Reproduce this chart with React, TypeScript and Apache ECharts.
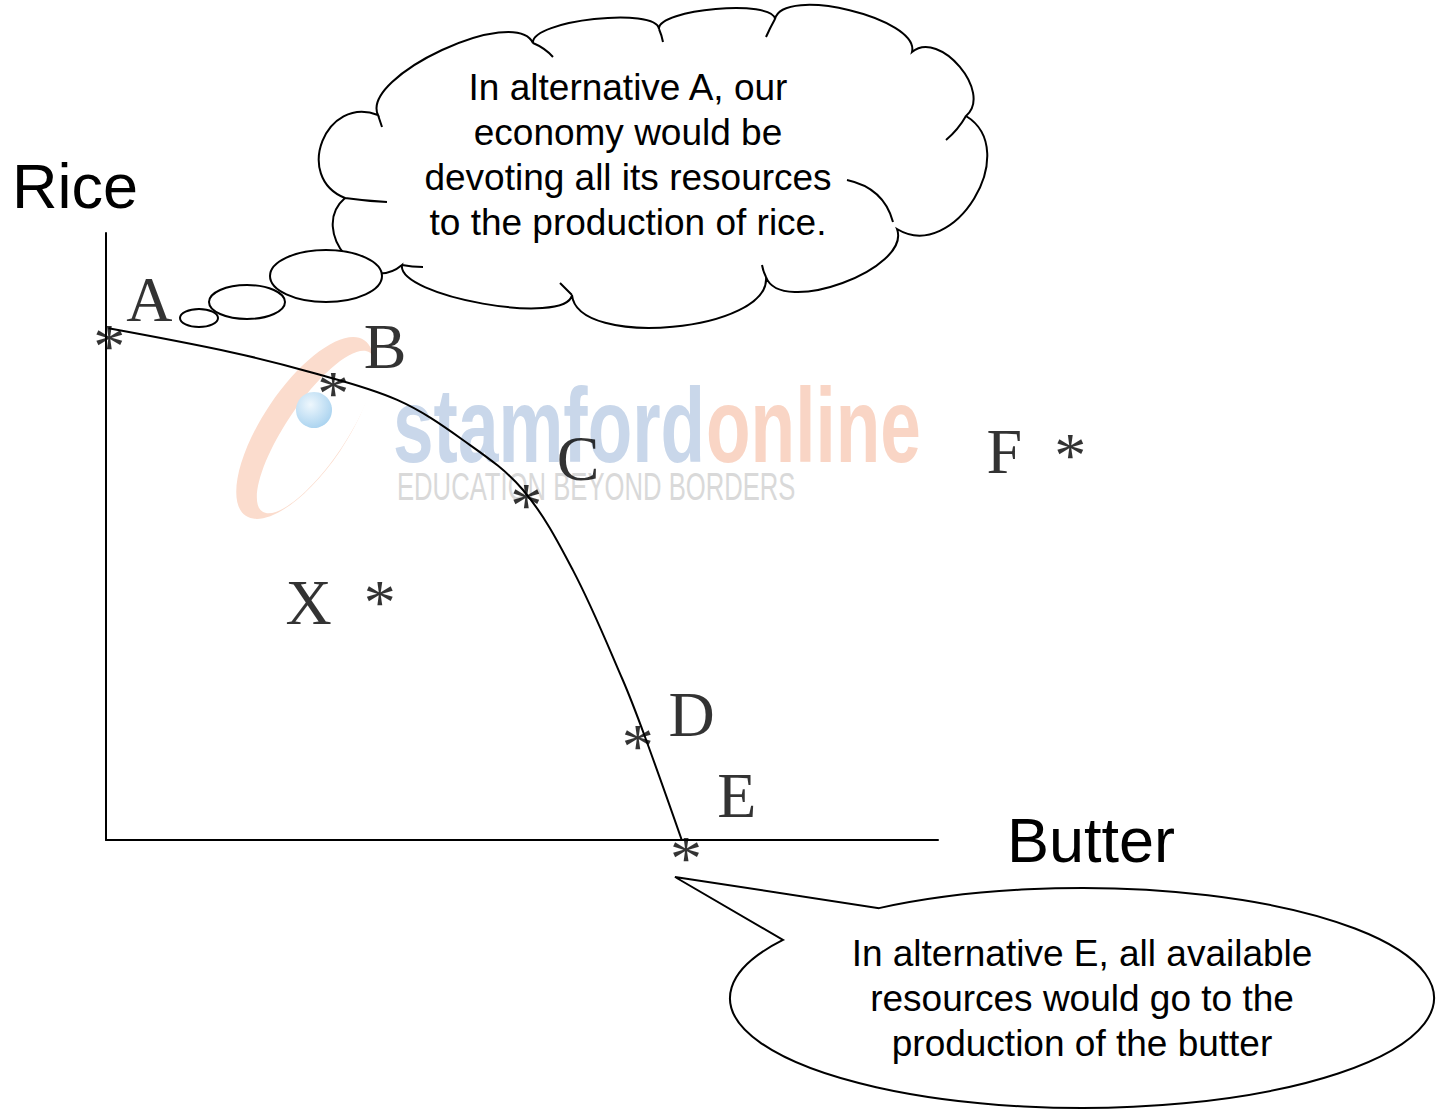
import React, { useEffect, useRef } from 'react';
import * as echarts from 'echarts';

// ---- data ----
const POINT_NAMES = ['A', 'B', 'C', 'D', 'E', 'F', 'X'];
const POINT_BUTTER = [0.4, 27.3, 50.5, 63.9, 69.7, 115.9, 32.9];
const POINT_RICE = [82.7, 74.8, 56.5, 16.8, -1.8, 64.7, 40.4];

const FRONTIER_BUTTER = [0.3, 14.9, 24.5, 35.0, 42.9, 50.1, 56.1, 62.1, 64.7, 69.2];
const FRONTIER_RICE = [84.3, 80.4, 77.1, 72.5, 65.9, 57.7, 44.5, 26.4, 17.3, 0];

const AXIS_MIN = 0;
const AXIS_MAX = 100;
const X_NAME = 'Butter';
const Y_NAME = 'Rice';

const CLOUD_TEXT = [
  'In alternative A, our',
  'economy would be',
  'devoting all its resources',
  'to the production of rice.',
];
const BUBBLE_TEXT = [
  'In alternative E, all available',
  'resources would go to the',
  'production of the butter',
];

// ---- styling / layout constants ----
const LETTER_OFFSETS: [number, number][] = [
  [40, -39], [52, -39], [52, -39], [54, -24], [51, -55], [-66, 4], [-71, 8],
];

const CLOUD_JUNCTIONS: [number, number][] = [
  [345, 198], [378, 115], [533, 43], [659, 29], [775, 19], [912, 52],
  [966, 116], [897, 229], [766, 277], [572, 295], [402, 265],
];
const CLOUD_SAGITTA = [42, 32, 17, 15, 26, 27, 50, 32, 41, 24, 37];
const CLOUD_TICKS: number[][] = [
  [378, 115, 380, 121, 382, 127],
  [533, 43, 545, 48, 553, 57],
  [659, 29, 662, 36, 663, 42],
  [775, 19, 770, 28, 766, 37],
  [966, 116, 958, 130, 946, 140],
  [847, 180, 884, 188, 893, 222],
  [766, 277, 763, 271, 762, 265],
  [572, 295, 565, 288, 560, 283],
  [402, 265, 412, 267, 423, 267],
  [345, 198, 366, 201, 387, 202],
];

function buildCloudPath(): string {
  const n = CLOUD_JUNCTIONS.length;
  let d = `M ${CLOUD_JUNCTIONS[0][0]} ${CLOUD_JUNCTIONS[0][1]}`;
  for (let i = 0; i < n; i++) {
    const [x0, y0] = CLOUD_JUNCTIONS[i];
    const [x1, y1] = CLOUD_JUNCTIONS[(i + 1) % n];
    const dx = x1 - x0;
    const dy = y1 - y0;
    const len = Math.hypot(dx, dy);
    const nx = dy / len;
    const ny = -dx / len;
    const k = (CLOUD_SAGITTA[i] * 4) / 3;
    d += ` C ${x0 + nx * k} ${y0 + ny * k} ${x1 + nx * k} ${y1 + ny * k} ${x1} ${y1}`;
  }
  d += ' Z';
  for (const t of CLOUD_TICKS) {
    d += ` M ${t[0]} ${t[1]} Q ${t[2]} ${t[3]} ${t[4]} ${t[5]}`;
  }
  return d;
}

const BUBBLE = { cx: 1082, cy: 998, rx: 352, ry: 110 };
const TAIL_TIP: [number, number] = [675, 877];
const TAIL_ATTACH_X = [879, 783];

function buildBubblePath(): string {
  const { cx, cy, rx, ry } = BUBBLE;
  const pts = TAIL_ATTACH_X.map((x) => {
    const c = (x - cx) / rx;
    const s = Math.sqrt(Math.max(0, 1 - c * c));
    return [x, cy - ry * s];
  });
  return `M ${pts[0][0]} ${pts[0][1]} A ${rx} ${ry} 0 1 1 ${pts[1][0]} ${pts[1][1]} L ${TAIL_TIP[0]} ${TAIL_TIP[1]} Z`;
}

const THOUGHT_DOTS = [
  { cx: 326, cy: 276, rx: 56, ry: 26 },
  { cx: 247, cy: 302, rx: 38, ry: 17 },
  { cx: 199, cy: 318, rx: 19, ry: 9 },
];

const SERIF = '"Liberation Serif", "Times New Roman", serif';
const SANS = '"Liberation Sans", Arial, sans-serif';
const SWIRL_ROT = (56 * Math.PI) / 180;

export default function App() {
  const ref = useRef<HTMLDivElement>(null);

  useEffect(() => {
    if (!ref.current) return;
    echarts.graphic.registerShape('cloud', echarts.graphic.extendPath(buildCloudPath(), {}));
    echarts.graphic.registerShape('speech', echarts.graphic.extendPath(buildBubblePath(), {}));
    const chart = echarts.init(ref.current, null, { renderer: 'svg' });

    const points = POINT_NAMES.map((name, i) => ({ name, value: [POINT_BUTTER[i], POINT_RICE[i]] }));

    const option: any = {
      animation: false,
      backgroundColor: '#ffffff',
      grid: { left: 106, top: 233, width: 832, height: 607, containLabel: false },
      xAxis: {
        type: 'value',
        min: AXIS_MIN,
        max: AXIS_MAX,
        name: X_NAME,
        nameLocation: 'end',
        nameGap: 69,
        nameTextStyle: { fontFamily: SANS, fontSize: 63, color: '#000' },
        axisLine: { show: true, onZero: false, lineStyle: { color: '#000', width: 2 } },
        axisTick: { show: false },
        axisLabel: { show: false },
        splitLine: { show: false },
      },
      yAxis: {
        type: 'value',
        min: AXIS_MIN,
        max: AXIS_MAX,
        name: Y_NAME,
        nameLocation: 'end',
        nameGap: 16,
        nameTextStyle: { fontFamily: SANS, fontSize: 63, color: '#000', padding: [0, 62, 0, 0] },
        axisLine: { show: true, onZero: false, lineStyle: { color: '#000', width: 2 } },
        axisTick: { show: false },
        axisLabel: { show: false },
        splitLine: { show: false },
      },
      series: [
        {
          type: 'line',
          name: 'Frontier',
          data: FRONTIER_BUTTER.map((x, i) => [x, FRONTIER_RICE[i]]),
          smooth: 0.35,
          symbol: 'none',
          lineStyle: { color: '#000', width: 2 },
          z: 3,
        },
        {
          type: 'scatter',
          name: 'Alternatives',
          data: points,
          symbolSize: 1,
          itemStyle: { color: 'rgba(0,0,0,0)' },
          clip: false,
          silent: true,
          label: {
            show: true,
            position: 'inside',
            formatter: '*',
            fontFamily: SERIF,
            fontSize: 64,
            color: '#000',
            offset: [0, 8],
          },
          z: 4,
        },
        {
          type: 'scatter',
          name: 'Names',
          data: points.map((p, i) => ({ ...p, label: { offset: LETTER_OFFSETS[i] } })),
          symbolSize: 1,
          itemStyle: { color: 'rgba(0,0,0,0)' },
          clip: false,
          silent: true,
          label: {
            show: true,
            position: 'inside',
            formatter: '{b}',
            fontFamily: SERIF,
            fontSize: 64,
            color: '#000',
          },
          z: 4,
        },
      ],
      graphic: {
        elements: [
          // watermark logo: crescent swirl + sphere
          {
            type: 'ellipse',
            x: 305,
            y: 428,
            rotation: SWIRL_ROT,
            shape: { cx: 0, cy: 0, rx: 106, ry: 42 },
            style: { fill: '#fbdccd' },
            silent: true,
            z: 0,
          },
          {
            type: 'ellipse',
            x: 316,
            y: 432,
            rotation: SWIRL_ROT,
            shape: { cx: 0, cy: 0, rx: 96, ry: 30 },
            style: { fill: '#ffffff' },
            silent: true,
            z: 0,
          },
          {
            type: 'circle',
            shape: { cx: 314, cy: 410, r: 18 },
            style: {
              fill: new echarts.graphic.RadialGradient(0.4, 0.35, 0.7, [
                { offset: 0, color: '#eef7fd' },
                { offset: 1, color: '#a8d2ef' },
              ]),
            },
            silent: true,
            z: 0,
          },
          {
            type: 'text',
            x: 393,
            y: 425,
            scaleX: 0.695,
            style: {
              text: 'stamford',
              fontFamily: SANS,
              fontWeight: 'bold',
              fontSize: 105,
              fill: '#c9d7ea',
              align: 'left',
              verticalAlign: 'middle',
            },
            silent: true,
            z: 0,
          },
          {
            type: 'text',
            x: 706,
            y: 425,
            scaleX: 0.695,
            style: {
              text: 'online',
              fontFamily: SANS,
              fontWeight: 'bold',
              fontSize: 105,
              fill: '#f9d5c5',
              align: 'left',
              verticalAlign: 'middle',
            },
            silent: true,
            z: 0,
          },
          {
            type: 'text',
            x: 397,
            y: 487,
            scaleX: 0.675,
            style: {
              text: 'EDUCATION BEYOND BORDERS',
              fontFamily: SANS,
              fontSize: 38,
              fill: '#d9d9d9',
              align: 'left',
              verticalAlign: 'middle',
            },
            silent: true,
            z: 0,
          },
          // thought cloud
          {
            type: 'cloud',
            x: 0,
            y: 0,
            style: { fill: '#fff', stroke: '#000', lineWidth: 2 },
            z: 1,
          },
          ...THOUGHT_DOTS.map((e) => ({
            type: 'ellipse',
            shape: e,
            style: { fill: '#fff', stroke: '#000', lineWidth: 2 },
            z: 1,
          })),
          {
            type: 'text',
            x: 628,
            y: 155,
            style: {
              text: CLOUD_TEXT.join('\n'),
              fontFamily: SANS,
              fontSize: 37,
              lineHeight: 45,
              fill: '#000',
              align: 'center',
              verticalAlign: 'middle',
            },
            z: 1,
          },
          // speech bubble
          {
            type: 'speech',
            x: 0,
            y: 0,
            style: { fill: '#fff', stroke: '#000', lineWidth: 2 },
            z: 1,
          },
          {
            type: 'text',
            x: BUBBLE.cx,
            y: BUBBLE.cy,
            style: {
              text: BUBBLE_TEXT.join('\n'),
              fontFamily: SANS,
              fontSize: 37,
              lineHeight: 45,
              fill: '#000',
              align: 'center',
              verticalAlign: 'middle',
            },
            z: 1,
          },
        ],
      },
    };

    chart.setOption(option);
    return () => {
      chart.dispose();
    };
  }, []);

  return (
    <div
      ref={ref}
      style={{ position: 'absolute', left: 0, top: 0, width: 1445, height: 1110, background: '#fff' }}
    />
  );
}
